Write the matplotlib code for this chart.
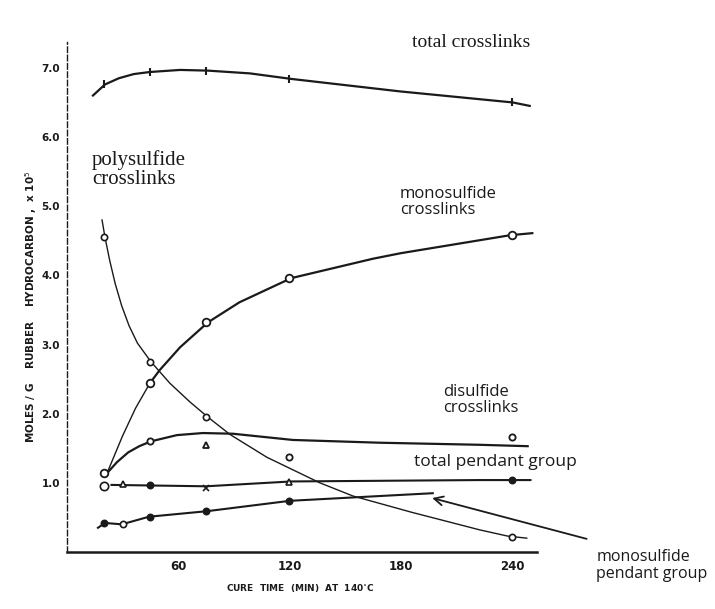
import matplotlib.pyplot as plt

# Crosslink and pendant group concentrations, moles/g rubber hydrocarbon x 10^5,
# against cure time (min) at 140 C.

# measured points
T5 = [20, 45, 75, 120, 240]
TOTAL_XL = [6.77, 6.94, 6.95, 6.84, 6.50]
POLY_T = [20, 45, 75, 240]
POLY_XL = [4.55, 2.75, 1.95, 0.22]
MONO_XL = [1.14, 2.44, 3.32, 3.96, 4.58]
DI_XL = [1.14, 1.60, 1.55, 1.37, 1.66]
T6 = [20, 30, 45, 75, 120, 240]
TOTAL_PEND = [0.95, 0.98, 0.97, 0.92, 1.01, 1.04]
MONO_PEND_T = [20, 30, 45, 75, 120]
MONO_PEND = [0.42, 0.40, 0.51, 0.59, 0.74]

# hand-faired curves drawn through the points
TOTAL_CURVE_T = [14, 20.5, 28, 36, 44.7, 61, 76, 98.7, 121, 179.5, 240.4, 249.6]
TOTAL_CURVE_Y = [6.60, 6.76, 6.85, 6.91, 6.94, 6.97, 6.96, 6.92, 6.84, 6.66, 6.50, 6.45]
POLY_CURVE_T = [18.9, 20.5, 23, 26, 29.5, 33.5, 38, 45.3, 55.5, 66.3, 76, 87.9, 107.8,
                136.4, 154.2, 186.5, 201, 222.6, 237.7, 248]
POLY_CURVE_Y = [4.80, 4.55, 4.22, 3.88, 3.56, 3.27, 3.02, 2.75, 2.44, 2.17, 1.95, 1.70, 1.37,
                1.00, 0.81, 0.57, 0.47, 0.32, 0.23, 0.20]
MONO_CURVE_T = [21.6, 30, 37, 44.7, 50, 61, 76, 93, 121, 165, 180, 239, 251]
MONO_CURVE_Y = [1.14, 1.68, 2.08, 2.44, 2.63, 2.96, 3.32, 3.61, 3.96, 4.24, 4.32, 4.58, 4.61]
DI_CURVE_T = [21.6, 27, 33, 39, 45.3, 59.3, 73.3, 89.5, 121.8, 168.7, 222.6, 248.5]
DI_CURVE_Y = [1.14, 1.30, 1.44, 1.53, 1.60, 1.69, 1.72, 1.71, 1.62, 1.58, 1.55, 1.53]
PEND_CURVE_T = [24, 75, 121, 222, 250]
PEND_CURVE_Y = [0.97, 0.95, 1.02, 1.04, 1.04]
MPEND_CURVE_T = [16.7, 20.5, 29.6, 44.2, 75.5, 120.2, 197.3]
MPEND_CURVE_Y = [0.35, 0.42, 0.40, 0.51, 0.59, 0.74, 0.85]

X_TICKS = [60, 120, 180, 240]
Y_TICKS = [1, 2, 3, 4, 5, 6, 7]
Y_TICK_LABELS = ['1.0', '2.0', '3.0', '4.0', '5.0', '6.0', '7.0']

INK = '#1a1a1a'

fig = plt.figure(figsize=(7.15, 6.09), dpi=100)
ax = fig.add_axes([0.0937, 0.0936, 0.657, 0.837])

# curves
ax.plot(TOTAL_CURVE_T, TOTAL_CURVE_Y, color=INK, lw=1.6)
ax.plot(POLY_CURVE_T, POLY_CURVE_Y, color=INK, lw=1.0)
ax.plot(MONO_CURVE_T[:4], MONO_CURVE_Y[:4], color=INK, lw=1.0)
ax.plot(MONO_CURVE_T[3:], MONO_CURVE_Y[3:], color=INK, lw=1.6)
ax.plot(DI_CURVE_T, DI_CURVE_Y, color=INK, lw=1.6)
ax.plot(PEND_CURVE_T, PEND_CURVE_Y, color=INK, lw=1.5)
ax.plot(MPEND_CURVE_T, MPEND_CURVE_Y, color=INK, lw=1.5)

# points
mk = dict(color=INK, ls='none', zorder=3)
ax.plot(T5, TOTAL_XL, marker='|', ms=6, mew=1.5, **mk)
ax.plot(POLY_T, POLY_XL, marker='o', ms=4.5, mfc='white', mew=1.2, **mk)
ax.plot(T5, MONO_XL, marker='o', ms=5.5, mfc='white', mew=1.3, **mk)
for t, y, m in zip(T5[1:], DI_XL[1:], ['o', '^', 'o', 'o']):
    ax.plot(t, y, marker=m, ms=4.5, mfc='white', mew=1.3, **mk)
for t, y, m, fc in zip(T6, TOTAL_PEND, ['o', '^', 'o', 'x', '^', 'o'],
                       ['white', 'white', INK, INK, 'white', INK]):
    ax.plot(t, y, marker=m, ms=4.5 if m != 'o' or fc == INK else 6, mfc=fc, mew=1.2, **mk)
for t, y, fc in zip(MONO_PEND_T, MONO_PEND, [INK, 'white', INK, INK, INK]):
    ax.plot(t, y, marker='o', ms=4.5, mfc=fc, mew=1.2, **mk)

# curve labels
lab = dict(color=INK, va='center', ha='left')
ax.text(186, 7.37, 'total crosslinks', family='Liberation Serif', fontsize=14, **lab)
ax.text(13.5, 5.53, 'polysulfide\ncrosslinks', family='Liberation Serif', fontsize=15,
        linespacing=0.95, **lab)
ax.text(179.5, 5.06, 'monosulfide\ncrosslinks', family='Open Sans', fontsize=12,
        linespacing=1.0, **lab)
ax.text(202.7, 2.20, 'disulfide\ncrosslinks', family='Open Sans', fontsize=12,
        linespacing=1.0, **lab)
ax.text(187, 1.30, 'total pendant group', family='Open Sans', fontsize=12.5, **lab)
ax.text(285.5, -0.20, 'monosulfide\npendant group', family='Open Sans', fontsize=11.5,
        linespacing=1.1, clip_on=False, **lab)
ax.annotate('', xy=(197, 0.78), xytext=(280.3, 0.19), annotation_clip=False,
            arrowprops=dict(arrowstyle='->', color=INK, lw=1.3,
                            mutation_scale=16, shrinkA=0, shrinkB=0))

# axes
ax.set_xlim(0, 253.4)
ax.set_ylim(0, 7.37)
ax.set_xticks(X_TICKS)
ax.set_xticklabels([str(v) for v in X_TICKS])
ax.set_yticks(Y_TICKS)
ax.set_yticklabels(Y_TICK_LABELS)
ax.tick_params(axis='x', length=0, labelsize=8.5, colors=INK, pad=6)
ax.tick_params(axis='y', length=0, labelsize=7.5, colors=INK, pad=5)
for lbl in ax.get_xticklabels() + ax.get_yticklabels():
    lbl.set_fontweight('bold')
ax.spines['top'].set_visible(False)
ax.spines['right'].set_visible(False)
ax.spines['left'].set_linestyle((0, (4, 2)))
ax.spines['left'].set_linewidth(1.0)
ax.spines['bottom'].set_linewidth(1.8)
ax.spines['left'].set_color(INK)
ax.spines['bottom'].set_color(INK)

fig.text(300 / 715, 1 - 588 / 609, 'CURE  TIME  (MIN)  AT  140$^{\\circ}$C',
         ha='center', va='center', fontsize=6.5, fontweight='bold', color=INK)
fig.text(31 / 715, 1 - 307 / 609, 'MOLES / G    RUBBER    HYDROCARBON ,  x 10$^{5}$',
         rotation=90, ha='center', va='center', fontsize=7.5, fontweight='bold', color=INK)

fig.savefig('out.png', dpi=100)
